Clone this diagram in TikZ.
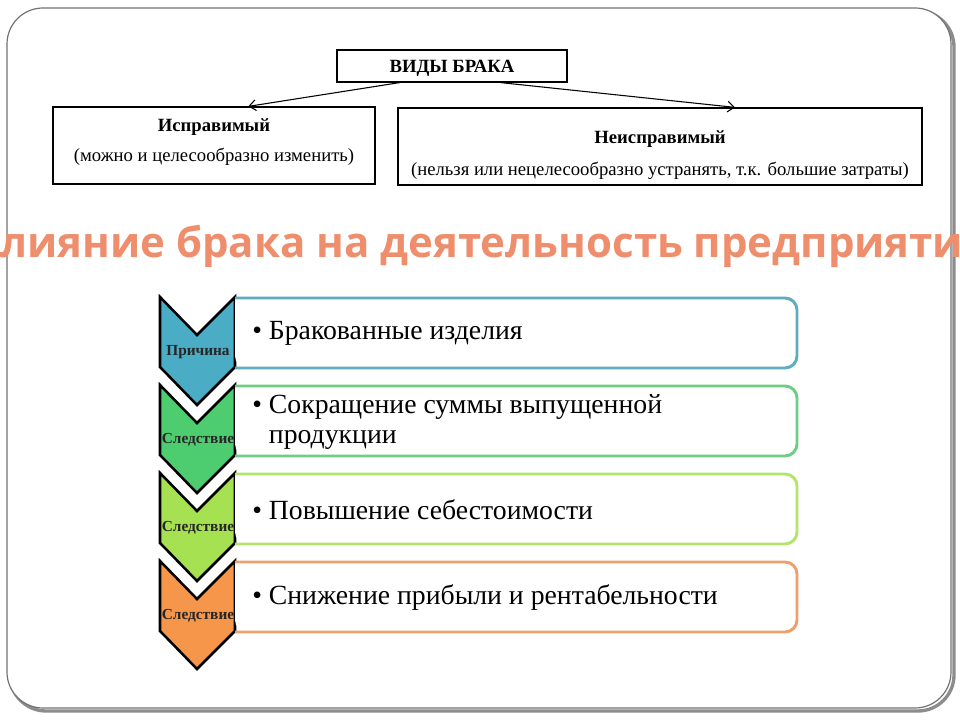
\documentclass[tikz,border=0pt]{standalone}
\usepackage{fontspec}
\setmainfont{Liberation Serif}
\newfontfamily\titlefont{Open Sans}
\usetikzlibrary{calc,arrows.meta}
\definecolor{chA}{RGB}{75,172,198}
\definecolor{chB}{RGB}{78,205,112}
\definecolor{chC}{RGB}{165,225,80}
\definecolor{chD}{RGB}{245,150,75}
\definecolor{bxA}{RGB}{95,172,192}
\definecolor{bxB}{RGB}{110,205,130}
\definecolor{bxC}{RGB}{178,228,110}
\definecolor{bxD}{RGB}{236,160,110}
\definecolor{titlec}{RGB}{238,142,108}
\tikzset{
  plainbox/.style={draw=black, line width=0.9pt, fill=white, inner sep=0pt},
  headtxt/.style={font=\fontsize{14}{16}\selectfont\bfseries, inner sep=0pt},
  subtxt/.style={font=\fontsize{14}{16}\selectfont, inner sep=0pt},
  arr/.style={-{Straight Barb[length=5pt,width=8pt]}, line width=0.8pt},
  chev/.style={draw=black, line width=1.9pt, line join=miter},
  steptxt/.style={font=\fontsize{11.5}{13}\selectfont\bfseries, inner sep=0pt, text=black!85},
  itemtxt/.style={font=\fontsize{20.8}{23}\selectfont, inner sep=0pt, align=left, anchor=west},
}
\begin{document}
\begin{tikzpicture}[x=0.75pt,y=-0.75pt]
\useasboundingbox (0,0) rectangle (960,720);
\fill[white] (0,0) rectangle (960,720);
% frame with shadow
\draw[black!45, line width=2.5pt, rounded corners=27pt] (10,11) rectangle (954,711);
\draw[black!55, line width=0.9pt, fill=white, rounded corners=27pt] (7,8) rectangle (951,708);

% top tree
\node[plainbox, minimum width=172.5pt, minimum height=24pt] (vb) at (452,66) {};
\node[headtxt] (vbt) at (452,68) {ВИДЫ БРАКА};
\node[plainbox, minimum width=241.5pt, minimum height=57.75pt] (lb) at (214,145.5) {};
\node[headtxt] (lbh) at (214,127) {Исправимый};
\node[subtxt] (lbs) at (214,157) {(можно и целесообразно изменить)};
\node[plainbox, minimum width=393pt, minimum height=57.75pt] (rb) at (660,146.5) {};
\node[headtxt] (rbh) at (660,139) {Неисправимый};
\node[subtxt] (rbs) at (660,171) {(нельзя или нецелесообразно устранять, т.к. большие затраты)};
\draw[arr] ($(vb.south west)!0.274!(vb.south east)$) -- ($(lb.north west)!0.606!(lb.north east)$);
\draw[arr] ($(vb.south west)!0.71!(vb.south east)$) -- ($(rb.north west)!0.643!(rb.north east)$);

% title (clipped by the page)
\begin{scope}
\clip (0,0) rectangle (960,720);
\node[font=\titlefont\fontsize{31.5}{36}\selectfont\bfseries, text=titlec, inner sep=0pt] (title) at (480,246) {Влияние брака на деятельность предприятия};
\end{scope}

% chevron list
\foreach \y/\cc/\bc/\lab/\nm in {297/chA/bxA/Причина/1, 385/chB/bxB/Следствие/2, 473/chC/bxC/Следствие/3, 561/chD/bxD/Следствие/4}{
  \draw[chev, fill=\cc] (160,\y) -- (197,\y+38) -- (235,\y) -- (235,\y+70) -- (197,\y+108) -- (160,\y+70) -- cycle;
  \node[steptxt] (lab\nm) at (198,\y+55) {\lab};
  \fill[white] (235,\y+1) [rounded corners=9pt] -- (797,\y+1) -- (797,\y+71) -- (235,\y+71) [sharp corners] -- cycle;
  \draw[draw=\bc, line width=2.2pt] (235,\y+1) [rounded corners=9pt] -- (797,\y+1) -- (797,\y+71) -- (235,\y+71);
}
\node[itemtxt] (i1) at (252,333) {•\ Бракованные изделия};
\node[itemtxt] (i2) at (252,422) {•\ Сокращение суммы выпущенной\\\phantom{•\ }продукции};
\node[itemtxt] (i3) at (252,510) {•\ Повышение себестоимости};
\node[itemtxt] (i4) at (252,598) {•\ Снижение прибыли и рентабельности};
\end{tikzpicture}
\end{document}
